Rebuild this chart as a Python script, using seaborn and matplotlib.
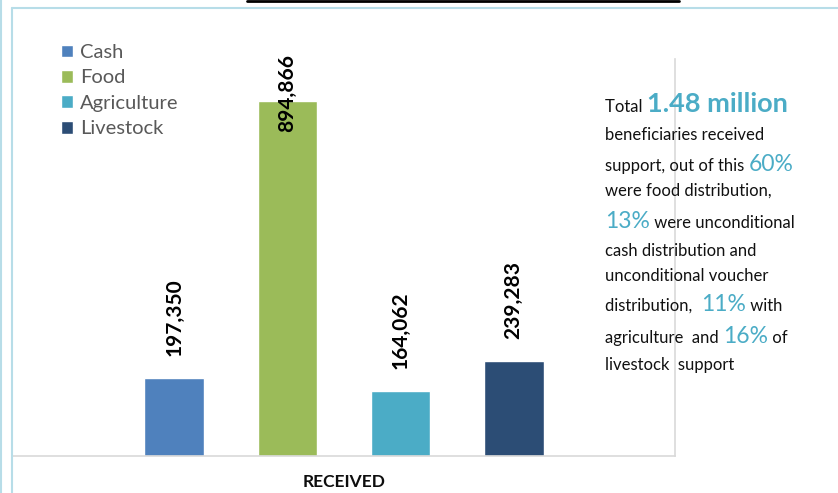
import matplotlib
matplotlib.use("Agg")
from matplotlib import pyplot as plt
from matplotlib.lines import Line2D
import pandas
import seaborn as sns

# data
categories = ["RECEIVED"]
support_types = ["Cash", "Food", "Agriculture", "Livestock"]
beneficiaries = [197350, 894866, 164062, 239283]
bar_colors = ["#4f81bd", "#9bbb59", "#4bacc6", "#2c4d75"]

# side note, one list of (text, style) per line
summary_lines = [
    [("Total ", "n"), ("1.48 million", "big")],
    [("beneficiaries received", "n")],
    [("support, out of this ", "n"), ("60%", "pct")],
    [("were food distribution,", "n")],
    [("13%", "pct"), (" were unconditional", "n")],
    [("cash distribution and", "n")],
    [("unconditional voucher", "n")],
    [("distribution,  ", "n"), ("11%", "pct"), (" with", "n")],
    [("agriculture  and ", "n"), ("16%", "pct"), (" of", "n")],
    [("livestock  support", "n")],
]
summary_baselines = [112, 140, 171, 196, 228, 256, 281, 311, 343, 370]

W, H = 838, 493
sns.set_style("white")
plt.rcParams['font.family'] = ['Lato', 'DejaVu Sans']

df = pandas.DataFrame({
    'status': categories * len(support_types),
    'type': support_types,
    'beneficiaries': beneficiaries,
})

fig = plt.figure(figsize=(W / 100, H / 100), dpi=100)
ax = fig.add_axes([13 / W, 37 / H, 662 / W, 397 / H])

sns.barplot(data=df, x='status', y='beneficiaries', hue='type', hue_order=support_types,
            palette=bar_colors, saturation=1, width=0.683, gap=0.47, ax=ax)

ax.set_ylim(0, 1000000)
ax.set_xlim(-0.5, 0.5)
ax.set_yticks([])
ax.set_xlabel('')
ax.set_ylabel('')
for side in ['left', 'top']:
    ax.spines[side].set_visible(False)
for side in ['right', 'bottom']:
    ax.spines[side].set_color('#d9d9d9')
    ax.spines[side].set_linewidth(1.2)
ax.tick_params(axis='x', length=0, pad=13, labelsize=12.5, labelcolor='#0d0d0d')
for lbl in ax.get_xticklabels():
    lbl.set_fontweight('bold')

# data labels
ymax = ax.get_ylim()[1]
for cont in ax.containers:
    for bar in cont:
        v = bar.get_height()
        if v > 0.8 * ymax:
            ax.annotate(f"{v:,.0f}", (bar.get_x() + bar.get_width() / 2, v), xytext=(0, 5.4),
                        textcoords='offset points', rotation=90, ha='center', va='center',
                        fontsize=15, fontweight='bold', color='black')
        else:
            ax.annotate(f"{v:,.0f}", (bar.get_x() + bar.get_width() / 2, v), xytext=(0, 15.8),
                        textcoords='offset points', rotation=90, ha='center', va='bottom',
                        fontsize=15, fontweight='bold', color='black')

# legend
h, l = ax.get_legend_handles_labels()
ax.legend(h, l, loc='upper left', bbox_to_anchor=(61 / W, 1 - 44 / H), bbox_transform=fig.transFigure,
          frameon=False, fontsize=14.5, labelcolor='#595959', handlelength=0.6, handleheight=0.6,
          handletextpad=0.35, labelspacing=0.42, borderpad=0, borderaxespad=0)

# side text
styles = {
    'n': dict(fontsize=12, color='#111111', fontweight='normal'),
    'big': dict(fontsize=19.5, color='#4bacc6', fontweight='bold'),
    'pct': dict(fontsize=16.5, color='#4bacc6', fontweight='normal'),
}
renderer = fig.canvas.get_renderer()


def seg_width(s, st):
    t1 = fig.text(0, 0, "|" + s + "|", **st)
    t2 = fig.text(0, 0, "||", **st)
    w = t1.get_window_extent(renderer).width - t2.get_window_extent(renderer).width
    t1.remove()
    t2.remove()
    return w


for segs, base in zip(summary_lines, summary_baselines):
    x = 605
    for s, key in segs:
        st = styles[key]
        fig.text(x / W, 1 - base / H, s, va='baseline', ha='left', **st)
        x += seg_width(s, st)

# frame decorations
fig.add_artist(Line2D([1 / W, 1 / W], [0, 1], color='#b7dde8', lw=1.5, transform=fig.transFigure))
fig.add_artist(Line2D([12 / W, 12 / W], [0, 1 - 7.5 / H], color='#b7dde8', lw=1.5, transform=fig.transFigure))
fig.add_artist(Line2D([12 / W, 1], [1 - 7.5 / H, 1 - 7.5 / H], color='#b7dde8', lw=1.5, transform=fig.transFigure))
fig.add_artist(Line2D([247 / W, 679 / W], [1 - 1 / H, 1 - 1 / H], color='black', lw=2, transform=fig.transFigure))

fig.savefig('out.png', dpi=100)
